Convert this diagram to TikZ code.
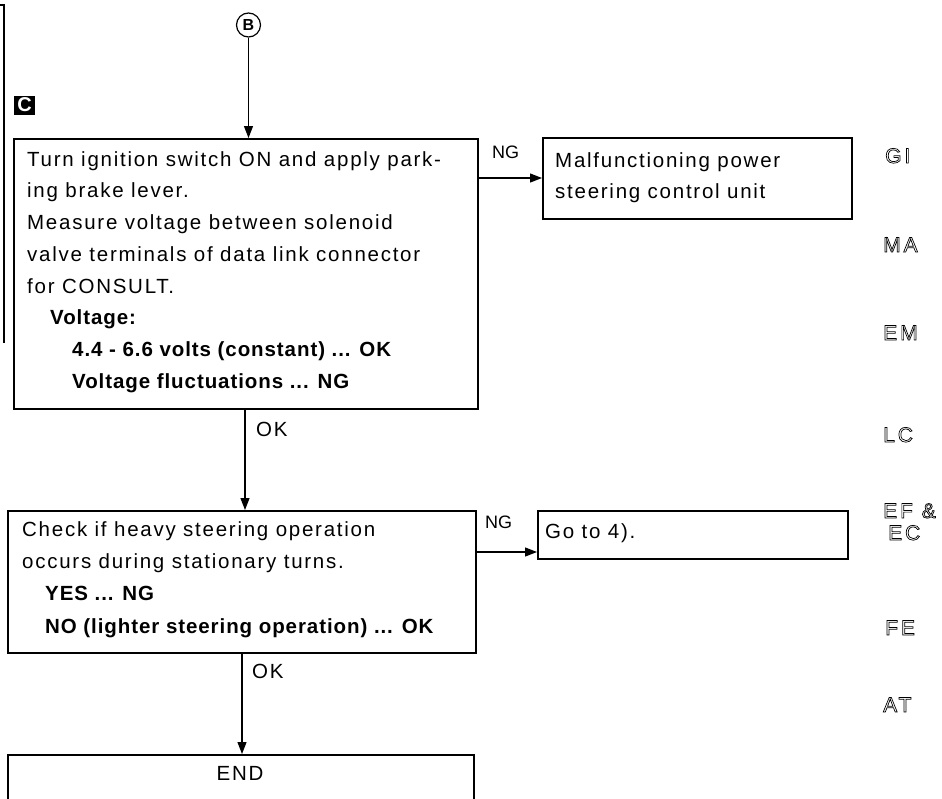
\documentclass[tikz,border=0pt]{standalone}
\usepackage{fontspec}
\setmainfont{Liberation Sans}
\usetikzlibrary{arrows.meta}
\newcommand\outl[1]{\special{pdf:literal direct 1 Tr 0.7 w}#1\special{pdf:literal direct 0 Tr}}
\begin{document}
\begin{tikzpicture}[x=1pt,y=-1pt,
  box/.style={draw,line width=1.6pt,inner sep=0pt,anchor=north west},
  flow/.style={line width=1.2pt,-{Triangle[length=12pt,width=9pt]}},
  rtx/.style={anchor=base west,inner sep=0pt,font=\fontsize{20.5}{24}\selectfont\addfontfeatures{LetterSpace=8.5}},
  btx/.style={anchor=base west,inner sep=0pt,font=\fontsize{20.5}{24}\selectfont\bfseries\addfontfeatures{LetterSpace=4.5}},
  lbl/.style={anchor=base west,inner sep=0pt,font=\fontsize{18}{20}\selectfont},
  side/.style={anchor=base west,inner sep=0pt,font=\fontsize{21}{24}\selectfont\addfontfeatures{LetterSpace=14}}
]
\useasboundingbox (0,0) rectangle (942,798);

% left margin line
\draw[line width=1.2pt] (0,5) -- (4,5) -- (4,343);

% circle B
\node[draw,circle,line width=1.2pt,minimum size=24pt,inner sep=0pt,font=\fontsize{16}{17}\selectfont\bfseries] (B) at (248.5,25) {B};

% C badge
\node[fill=black,text=white,minimum width=21pt,minimum height=19pt,inner sep=0pt,font=\fontsize{20}{21}\selectfont\bfseries] (C) at (24.5,105) {C};

% boxes
\node[box,minimum width=464pt,minimum height=270pt] (b1) at (13,138) {};
\node[box,minimum width=309pt,minimum height=81pt] (b2) at (542,137) {};
\node[box,minimum width=468pt,minimum height=142pt] (b3) at (7,510) {};
\node[box,minimum width=310pt,minimum height=48pt] (b4) at (537,510) {};
\node[box,minimum width=466pt,minimum height=60pt] (b5) at (7,754) {};

% box 1 text
\node[rtx] (t11) at (27,166) {Turn ignition switch ON and apply park-};
\node[rtx] (t12) at (27,197) {ing brake lever.};
\node[rtx] (t13) at (27,229) {Measure voltage between solenoid};
\node[rtx] (t14) at (27,261) {valve terminals of data link connector};
\node[rtx] (t15) at (27,293) {for CONSULT.};
\node[btx] (t16) at (50,324) {Voltage:};
\node[btx] (t17) at (72,356) {4.4 - 6.6 volts (constant) ... OK};
\node[btx] (t18) at (72,388) {Voltage fluctuations ... NG};

% box 2 text
\node[rtx] (t21) at (555,167) {Malfunctioning power};
\node[rtx] (t22) at (555,198) {steering control unit};

% box 3 text
\node[rtx] (t31) at (22,536) {Check if heavy steering operation};
\node[rtx] (t32) at (22,568) {occurs during stationary turns.};
\node[btx] (t33) at (45,600) {YES ... NG};
\node[btx] (t34) at (45,633) {NO (lighter steering operation) ... OK};

% box 4 text
\node[rtx] (t41) at (545,538) {Go to 4).};

% END
\node[rtx,anchor=base] (t51) at (240,780) {END};

% connectors
\coordinate (b1top) at (248.5,138);
\draw[flow] (B.south) -- (b1top);
\draw[flow] (b1.east |- 0,178) -- (b2.west |- 0,178);
\coordinate (b1bot) at (245,408);
\coordinate (b3top) at (245,510);
\draw[flow] (b1bot) -- (b3top);
\draw[flow] (b3.east |- 0,552) -- (b4.west |- 0,552);
\coordinate (b3bot) at (242,652);
\coordinate (b5top) at (242,754);
\draw[flow] (b3bot) -- (b5top);

% connector labels
\node[lbl] (ng1) at (492,158) {NG};
\node[lbl] (ng2) at (485,528) {NG};
\node[rtx] (ok1) at (256,436) {OK};
\node[rtx] (ok2) at (252,678) {OK};

% side tabs
\node[side] (s1) at (885,163) {\outl{GI}};
\node[side] (s2) at (883,252) {\outl{MA}};
\node[side] (s3) at (883,340) {\outl{EM}};
\node[side] (s4) at (883,442) {\outl{LC}};
\node[side] (s5) at (883,518) {\outl{EF \&}};
\node[side] (s6) at (888,540) {\outl{EC}};
\node[side] (s7) at (885,635) {\outl{FE}};
\node[side] (s8) at (883,712) {\outl{AT}};
\end{tikzpicture}
\end{document}
